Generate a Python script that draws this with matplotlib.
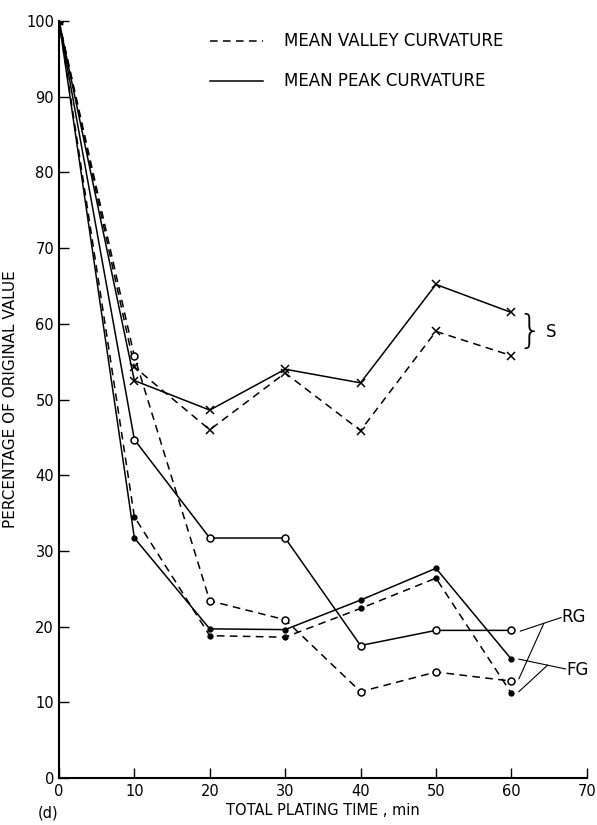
import numpy as np
import matplotlib.pyplot as plt

# plating time, min
t = [0, 10, 20, 30, 40, 50, 60]

# S (crosses)
s_peak = [100, 52.5, 48.6, 54.0, 52.2, 65.2, 61.5]
s_valley = [100, 54.3, 46.0, 53.5, 45.9, 59.0, 55.8]
# RG (open circles)
rg_peak = [100, 44.7, 31.7, 31.7, 17.5, 19.5, 19.5]
rg_valley = [100, 55.7, 23.4, 20.9, 11.4, 14.0, 12.8]
# FG (filled dots)
fg_peak = [100, 31.7, 19.7, 19.6, 23.5, 27.7, 15.7]
fg_valley = [100, 34.5, 18.8, 18.6, 22.4, 26.4, 11.2]

xticks = [0, 10, 20, 30, 40, 50, 60, 70]
yticks = [0, 10, 20, 30, 40, 50, 60, 70, 80, 90, 100]

plt.rcParams['font.family'] = ['DejaVu Sans']
fig = plt.figure(figsize=(5.97, 8.25), dpi=100)
ax = fig.add_axes([0.0988, 0.057, 0.884, 0.9175])

dash = (0, (5, 3.5))
lw = 1.1

# solid = peak, dashed = valley
ax.plot(t, s_peak, 'k-', lw=lw, marker='x', ms=6, mew=1.1)
ax.plot(t, s_valley, color='k', ls=dash, lw=lw, marker='x', ms=6, mew=1.1)
ax.plot(t, rg_peak, 'k-', lw=lw, marker='o', ms=5, mfc='white', mew=1.1)
ax.plot(t, rg_valley, color='k', ls=dash, lw=lw, marker='o', ms=5, mfc='white', mew=1.1)
ax.plot(t, fg_peak, 'k-', lw=lw, marker='o', ms=3.5)
ax.plot(t, fg_valley, color='k', ls=dash, lw=lw, marker='o', ms=3.5)

ax.set_xlim(0, 70)
ax.set_ylim(0, 100)
ax.set_xticks(xticks)
ax.set_yticks(yticks)
ax.tick_params(direction='in', length=7, width=1, labelsize=10.5)
ax.tick_params(axis='x', pad=4)
for side in ['top', 'right']:
    ax.spines[side].set_visible(False)
for side in ['left', 'bottom']:
    ax.spines[side].set_linewidth(1.5)

ax.set_ylabel('PERCENTAGE OF ORIGINAL VALUE', fontsize=11)
ax.yaxis.set_label_coords(-0.078, 0.5)
ax.set_xlabel('TOTAL PLATING TIME , min', fontsize=10.5, labelpad=3)
ax.text(-1.5, -4.6, '(d)', fontsize=10.5, ha='center', va='center')

# legend
ax.plot([20, 27], [97.4, 97.4], color='k', ls=dash, lw=lw)
ax.plot([20, 27], [92.1, 92.1], 'k-', lw=lw)
ax.text(29.8, 97.4, 'MEAN VALLEY CURVATURE', fontsize=12, va='center')
ax.text(29.8, 92.1, 'MEAN PEAK CURVATURE', fontsize=12, va='center')

# S brace
ax.text(60.8, 58.9, '}', fontsize=28, va='center', ha='left', fontweight='light')
ax.text(64.6, 58.9, 'S', fontsize=12, va='center', ha='left')

# RG / FG leaders
ax.plot([61.2, 66.6], [19.4, 21.2], 'k-', lw=0.8)
ax.plot([64.3, 61.0], [20.4, 13.1], 'k-', lw=0.8)
ax.text(66.7, 21.3, 'RG', fontsize=12, va='center', ha='left')
ax.plot([61.0, 67.2], [15.7, 14.4], 'k-', lw=0.8)
ax.plot([64.8, 61.0], [14.9, 11.4], 'k-', lw=0.8)
ax.text(67.3, 14.3, 'FG', fontsize=12, va='center', ha='left')

plt.savefig('out.png', dpi=100)
